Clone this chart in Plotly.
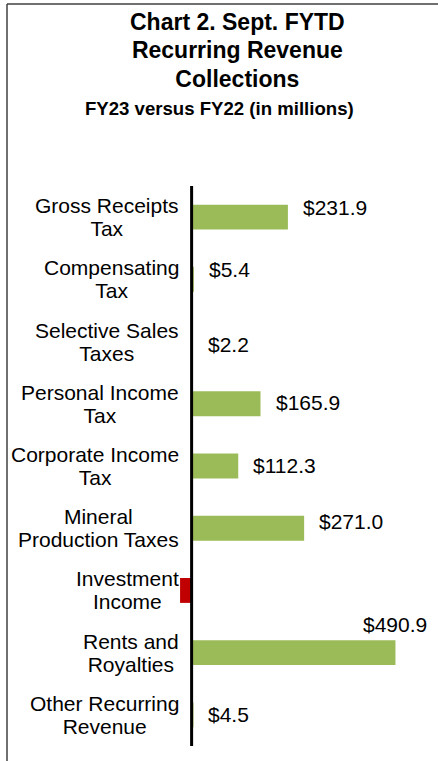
import plotly.graph_objects as go

# ---- data ----
categories = ["Gross Receipts Tax", "Compensating Tax", "Selective Sales Taxes",
              "Personal Income Tax", "Corporate Income Tax", "Mineral Production Taxes",
              "Investment Income", "Rents and Royalties", "Other Recurring Revenue"]
category_labels = ["Gross Receipts<br>Tax", "Compensating<br>Tax", "Selective Sales<br>Taxes",
                   "Personal Income<br>Tax", "Corporate Income<br>Tax", "Mineral<br>Production Taxes",
                   "Investment<br>Income", "Rents and<br>Royalties", "Other Recurring<br>Revenue"]
values = [231.9, 5.4, 2.2, 165.9, 112.3, 271.0, -27.8, 490.9, 4.5]
value_labels = ["$231.9", "$5.4", "$2.2", "$165.9", "$112.3", "$271.0", "", "$490.9", "$4.5"]

# ---- style ----
W, H = 438, 761
L, R, T, B = 175, 18, 186, 15
PW, PH = W - L - R, H - T - B
XRANGE = [-40, 550]
FONT = "Liberation Sans, Arial, sans-serif"
GREEN, RED = "#9BBB59", "#C00000"
label_nudge = [10, 10, -3, 1, 1, 7, 0, 0, 0]  # pixel nudges for data labels

def px_x(p):
    return (p - L) / PW

def px_y(p):
    return (H - B - p) / PH

def sized(text, px):
    return '<span style="font-size:%spx">%s</span>' % (px, text)

colors = [GREEN if v >= 0 else RED for v in values]

fig = go.Figure(go.Bar(
    x=values, y=categories, orientation="h",
    marker=dict(color=colors, line=dict(width=0)),
    width=0.4, hoverinfo="skip",
))

annotations = []
vmax = max(values)
for cat, lab, v, txt, dy in zip(categories, category_labels, values, value_labels, label_nudge):
    lines = lab.split("<br>")
    annotations.append(dict(
        x=px_x(181), xref="paper", y=cat, yref="y",
        text="<br>".join(sized(s, 21) for s in lines), showarrow=False,
        xanchor="right", yanchor="middle", align="center",
        font=dict(family=FONT, size=18, color="#000000")))
    if txt:
        if v == vmax:
            annotations.append(dict(
                x=v, y=cat, xref="x", yref="y", text=txt, showarrow=False,
                xanchor="center", yanchor="middle", yshift=28,
                font=dict(family=FONT, size=21, color="#000000")))
        else:
            annotations.append(dict(
                x=v, y=cat, xref="x", yref="y", text=txt, showarrow=False,
                xanchor="left", yanchor="middle", xshift=13, yshift=dy,
                font=dict(family=FONT, size=21, color="#000000")))

title_lines = ["Chart 2. Sept. FYTD", "Recurring Revenue", "Collections"]
annotations.append(dict(
    x=px_x(237), xref="paper", y=px_y(7), yref="paper",
    text="<br>".join("<b>%s</b>" % sized(s, 23) for s in title_lines),
    showarrow=False, xanchor="center", yanchor="top", align="center",
    font=dict(family=FONT, size=21.8, color="#000000")))
annotations.append(dict(
    x=px_x(219), xref="paper", y=px_y(96), yref="paper",
    text="<b>FY23 versus FY22 (in millions)</b>",
    showarrow=False, xanchor="center", yanchor="top", align="center",
    font=dict(family=FONT, size=18.6, color="#000000")))

shapes = [
    # zero axis line
    dict(type="line", xref="x", yref="paper", x0=0, x1=0, y0=0, y1=1,
         line=dict(color="#000000", width=3), layer="above"),
    # frame (top and left)
    dict(type="line", xref="paper", yref="paper", x0=px_x(7), x1=px_x(W), y0=px_y(4), y1=px_y(4),
         line=dict(color="#404040", width=1.5)),
    dict(type="line", xref="paper", yref="paper", x0=px_x(7), x1=px_x(7), y0=px_y(4), y1=px_y(H),
         line=dict(color="#404040", width=1.5)),
]

fig.update_layout(
    width=W, height=H, autosize=False,
    margin=dict(l=L, r=R, t=T, b=B, pad=0),
    paper_bgcolor="white", plot_bgcolor="white",
    showlegend=False, bargap=0.6,
    xaxis=dict(range=XRANGE, visible=False, fixedrange=True),
    yaxis=dict(autorange="reversed", showticklabels=False, showgrid=False,
               zeroline=False, showline=False, ticks="", fixedrange=True),
    annotations=annotations, shapes=shapes,
)

fig.write_html("out.html", config={"displayModeBar": False},
               post_script="document.body.style.margin='0';document.body.style.overflow='hidden';")
